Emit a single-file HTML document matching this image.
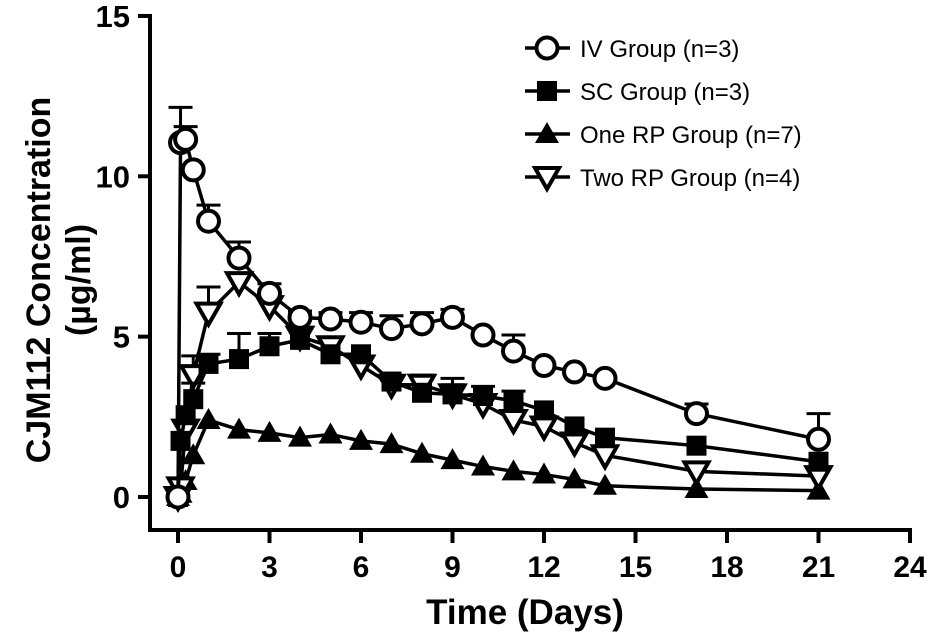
<!DOCTYPE html>
<html><head><meta charset="utf-8"><style>
body{margin:0;background:#fff}
svg{display:block;font-family:"Liberation Sans",Arial,sans-serif}
</style></head><body>
<svg id="chart" width="940" height="642" viewBox="0 0 940 642"></svg>
<script>
const times=[0,0.083,0.25,0.5,1,2,3,4,5,6,7,8,9,10,11,12,13,14,17,21];
const ivVals=[0,11.05,11.15,10.2,8.6,7.45,6.35,5.6,5.55,5.45,5.25,5.4,5.6,5.05,4.55,4.1,3.9,3.7,2.6,1.8];
const ivErr=[0,1.1,0.4,0,0.5,0.5,0.3,0.2,0.2,0.3,0.4,0.35,0.25,0,0.5,0,0,0,0.3,0.8];
const scVals=[0,1.75,2.55,3.05,4.15,4.3,4.7,4.9,4.45,4.45,3.6,3.25,3.2,3.15,3.0,2.7,2.2,1.85,1.6,1.1];
const scErr=[0,0,0,0.5,0.3,0.8,0.4,0.3,0,0,0,0,0.3,0.3,0.3,0,0,0,0,0];
const oneVals=[0,0.1,0.5,1.3,2.4,2.1,2.0,1.85,1.95,1.75,1.65,1.35,1.15,0.95,0.8,0.7,0.55,0.35,0.25,0.2];
const twoVals=[0,0.3,2.1,3.8,5.75,6.7,5.95,5.0,4.7,4.1,3.5,3.5,3.2,2.9,2.4,2.2,1.7,1.3,0.8,0.65];
const twoErr=[0,0,0,0.6,0.8,0,0.5,0.7,0,0,0,0.3,0.5,0,0,0,0,0,0,0];
const xTicks=[0,3,6,9,12,15,18,21,24];
const yTicks=[0,5,10,15];
const legendLabels=["IV Group (n=3)","SC Group (n=3)","One RP Group (n=7)","Two RP Group (n=4)"];

const NS="http://www.w3.org/2000/svg";
const svg=document.getElementById('chart');
const X=d=>178+d*30.5;
const Y=v=>497-v*32.07;
function mk(t,a,p){const e=document.createElementNS(NS,t);for(const k in a)e.setAttribute(k,a[k]);(p||svg).appendChild(e);return e;}

let ya=mk('line',{x1:150,y1:14,x2:150,y2:532,stroke:'#000','stroke-width':4});


let xa=mk('line',{x1:148,y1:530,x2:912,y2:530,stroke:'#000','stroke-width':4});


yTicks.forEach(v=>{
  let l=mk('line',{x1:138,y1:Y(v),x2:150,y2:Y(v),stroke:'#000','stroke-width':4});
  
  
  let t=mk('text',{x:130,y:Y(v)+11,'text-anchor':'end','font-size':31,'font-weight':'bold'});
  t.textContent=v;
  
  
});
xTicks.forEach(v=>{
  let l=mk('line',{x1:X(v),y1:530,x2:X(v),y2:543,stroke:'#000','stroke-width':4});
  
  
  let t=mk('text',{x:X(v),y:577,'text-anchor':'middle','font-size':30,'font-weight':'bold'});
  t.textContent=v;
  
  
});
let xt=mk('text',{x:525,y:624,'text-anchor':'middle','font-size':35,'font-weight':'bold'});
xt.textContent='Time  (Days)';


let yt=mk('text',{transform:'translate(50,280) rotate(-90)','text-anchor':'middle','font-size':34,'font-weight':'bold'});
yt.textContent='CJM112 Concentration';


let yt2=mk('text',{transform:'translate(90,280) rotate(-90)','text-anchor':'middle','font-size':34,'font-weight':'bold'});
yt2.textContent='(µg/ml)';



function marker(type,cx,cy,g){
  const s=10;
  if(type==='circle') return mk('circle',{cx:cx,cy:cy,r:10.5,fill:'#fff',stroke:'#000','stroke-width':4},g);
  if(type==='square') return mk('rect',{x:cx-s,y:cy-s,width:2*s,height:2*s,fill:'#000'},g);
  if(type==='up') return mk('polygon',{points:`${cx},${cy-12} ${cx+12},${cy+9} ${cx-12},${cy+9}`,fill:'#000'},g);
  return mk('polygon',{points:`${cx-12},${cy-9} ${cx+12},${cy-9} ${cx},${cy+12}`,fill:'#fff',stroke:'#000','stroke-width':4},g);
}
function series(name,vals,errs,type){
  const g=mk('g',{});
  
  
  if(errs) vals.forEach((v,i)=>{ if(errs[i]>0){
    mk('line',{x1:X(times[i]),y1:Y(v),x2:X(times[i]),y2:Y(v+errs[i]),stroke:'#000','stroke-width':3},g);
    mk('line',{x1:X(times[i])-12,y1:Y(v+errs[i]),x2:X(times[i])+12,y2:Y(v+errs[i]),stroke:'#000','stroke-width':3},g);
  }});
  mk('polyline',{points:vals.map((v,i)=>X(times[i])+','+Y(v)).join(' '),fill:'none',stroke:'#000','stroke-width':3.5},g);
  vals.forEach((v,i)=>{
    const m=marker(type,X(times[i]),Y(v),g);
    
    
  });
}
series('one-rp-series',oneVals,null,'up');
series('two-rp-series',twoVals,twoErr,'down');
series('sc-series',scVals,scErr,'square');
series('iv-series',ivVals,ivErr,'circle');

const types=['circle','square','up','down'];
legendLabels.forEach((lab,i)=>{
  const y=48+i*43;
  const g=mk('g',{});
  
  
  mk('line',{x1:525,y1:y,x2:570,y2:y,stroke:'#000','stroke-width':3.5},g);
  marker(types[i],547,y,g);
  const t=mk('text',{x:580,y:y+9,'font-size':24},g);
  t.textContent=lab;
});
</script>
</body></html>
